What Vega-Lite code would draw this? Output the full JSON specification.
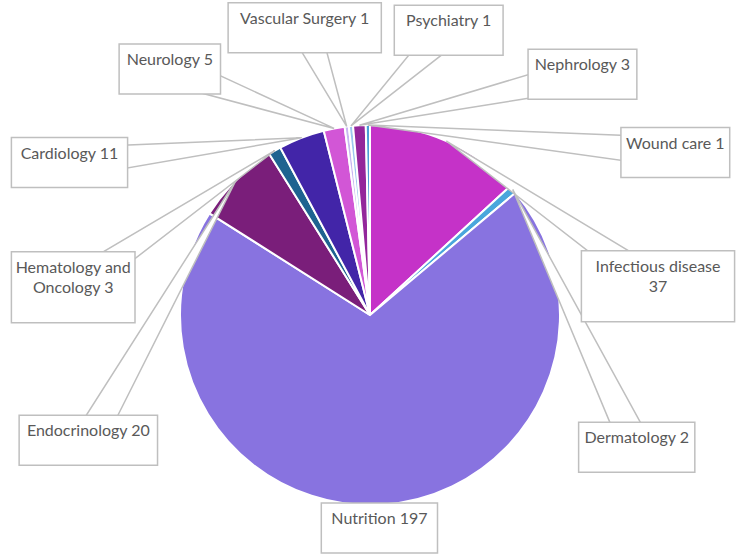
{
  "$schema": "https://vega.github.io/schema/vega-lite/v6.json",
  "width": 746,
  "height": 554,
  "autosize": {"type": "fit", "contains": "padding"},
  "padding": 0,
  "background": "white",
  "config": {"view": {"stroke": null}},
  "data": {
    "values": [
      {"department": "Infectious disease", "count": 37},
      {"department": "Dermatology", "count": 2},
      {"department": "Nutrition", "count": 197},
      {"department": "Endocrinology", "count": 20},
      {"department": "Hematology and Oncology", "count": 3},
      {"department": "Cardiology", "count": 11},
      {"department": "Neurology", "count": 5},
      {"department": "Vascular Surgery", "count": 1},
      {"department": "Psychiatry", "count": 1},
      {"department": "Nephrology", "count": 3},
      {"department": "Wound care", "count": 1}
    ]
  },
  "transform": [
    {"joinaggregate": [{"op": "sum", "field": "count", "as": "total"}]},
    {"calculate": "pow(datum.count, 0.1) + 2*datum.count/datum.total", "as": "w"},
    {"window": [
      {"op": "row_number", "as": "idx"},
      {"op": "sum", "field": "count", "as": "cum"},
      {"op": "sum", "field": "w", "as": "cumw"}
    ], "frame": [null, 0]},
    {"joinaggregate": [{"op": "sum", "field": "w", "as": "totw"}]},
    {"calculate": "2*PI*(datum.cum - datum.count/2)/datum.total", "as": "mid"},
    {"calculate": "PI*76/180 + 2*PI*(datum.cumw - datum.w/2)/datum.totw", "as": "la"},
    {"calculate": "datum.department + ' ' + datum.count", "as": "full"},
    {"calculate": "length(datum.full) > 18 ? [substring(datum.full, 0, lastindexof(substring(datum.full, 0, 19), ' ')), substring(datum.full, lastindexof(substring(datum.full, 0, 19), ' ') + 1)] : [datum.full]", "as": "lines"},
    {"calculate": "(max(length(datum.lines[0]), length(peek(datum.lines))) * 7.4 + 20) / 190", "as": "bw"},
    {"calculate": "(length(datum.lines) * 21 + 29) / 190", "as": "bh"},
    {"calculate": "clamp(1.5*sin(datum.la) + datum.bw/2*sin(datum.la), -1.9474 + datum.bw/2 + 0.06, 1.9789 - datum.bw/2 - 0.06)", "as": "cx"},
    {"calculate": "clamp(0.33 + (cos(datum.la) > 0 ? 1.07 : 1.5)*cos(datum.la) + datum.bh/2*cos(datum.la), -1.2579 + datum.bh/2 + 0.005, 1.6579 - datum.bh/2 - 0.005)", "as": "cy"},
    {"calculate": "sin(datum.mid)", "as": "tx"},
    {"calculate": "cos(datum.mid)", "as": "ty"},
    {"calculate": "sqrt(pow(datum.cx - datum.tx, 2) + pow(datum.cy - datum.ty, 2))", "as": "dl"},
    {"calculate": "-(datum.cy - datum.ty) / datum.dl * 0.08", "as": "nx"},
    {"calculate": "(datum.cx - datum.tx) / datum.dl * 0.08", "as": "ny"},
    {"calculate": "datum.cx - datum.bw/2", "as": "bx1"},
    {"calculate": "datum.cx + datum.bw/2", "as": "bx2"},
    {"calculate": "datum.cy - datum.bh/2", "as": "by1"},
    {"calculate": "datum.cy + datum.bh/2", "as": "by2"}
  ],
  "layer": [
    {
      "mark": {"type": "arc", "radius": 190, "stroke": "white", "strokeWidth": 2},
      "encoding": {
        "theta": {"field": "count", "type": "quantitative", "stack": true},
        "order": {"field": "idx", "type": "quantitative"},
        "color": {
          "field": "department",
          "type": "nominal",
          "legend": null,
          "scale": {
            "domain": ["Infectious disease", "Dermatology", "Nutrition", "Endocrinology", "Hematology and Oncology", "Cardiology", "Neurology", "Vascular Surgery", "Psychiatry", "Nephrology", "Wound care"],
            "range": ["#C532C8", "#4AA6DC", "#8873E0", "#7A1E7A", "#1E6390", "#4225A8", "#D256D6", "#C9B6F2", "#9CC8EE", "#93279B", "#4B9FD8"]
          }
        },
        "x": {"datum": 0, "type": "quantitative", "axis": null, "scale": {"domain": [-1.9474, 1.9789], "nice": false, "zero": false}},
        "y": {"datum": 0, "type": "quantitative", "axis": null, "scale": {"domain": [-1.2579, 1.6579], "nice": false, "zero": false}}
      }
    },
    {
      "transform": [
        {"calculate": "0", "as": "k0"},
        {"calculate": "1", "as": "k1"},
        {"calculate": "2", "as": "k2"},
        {"calculate": "3", "as": "k3"},
        {"fold": ["k0", "k1", "k2", "k3"], "as": ["vk", "vi"]},
        {"calculate": "datum.vi == 1 ? datum.cx + datum.nx : datum.vi == 2 ? datum.cx - datum.nx : datum.tx", "as": "px"},
        {"calculate": "datum.vi == 1 ? datum.cy + datum.ny : datum.vi == 2 ? datum.cy - datum.ny : datum.ty", "as": "py"}
      ],
      "mark": {"type": "line", "fill": "white", "stroke": "#BFBFBF", "strokeWidth": 1.5},
      "encoding": {
        "x": {"field": "px", "type": "quantitative", "axis": null, "scale": {"domain": [-1.9474, 1.9789], "nice": false, "zero": false}},
        "y": {"field": "py", "type": "quantitative", "axis": null, "scale": {"domain": [-1.2579, 1.6579], "nice": false, "zero": false}},
        "detail": {"field": "department", "type": "nominal"},
        "order": {"field": "vi", "type": "quantitative"}
      }
    },
    {
      "mark": {"type": "rect", "fill": "white", "stroke": "#BFBFBF", "strokeWidth": 1.5},
      "encoding": {
        "x": {"field": "bx1", "type": "quantitative", "axis": null, "scale": {"domain": [-1.9474, 1.9789], "nice": false, "zero": false}},
        "x2": {"field": "bx2"},
        "y": {"field": "by1", "type": "quantitative", "axis": null, "scale": {"domain": [-1.2579, 1.6579], "nice": false, "zero": false}},
        "y2": {"field": "by2"}
      }
    },
    {
      "mark": {"type": "text", "baseline": "top", "align": "center", "dy": 8, "fontSize": 16, "color": "#595959", "lineHeight": 20, "font": "Lato"},
      "encoding": {
        "x": {"field": "cx", "type": "quantitative", "axis": null, "scale": {"domain": [-1.9474, 1.9789], "nice": false, "zero": false}},
        "y": {"field": "by2", "type": "quantitative", "axis": null, "scale": {"domain": [-1.2579, 1.6579], "nice": false, "zero": false}},
        "text": {"field": "lines"}
      }
    }
  ]
}
